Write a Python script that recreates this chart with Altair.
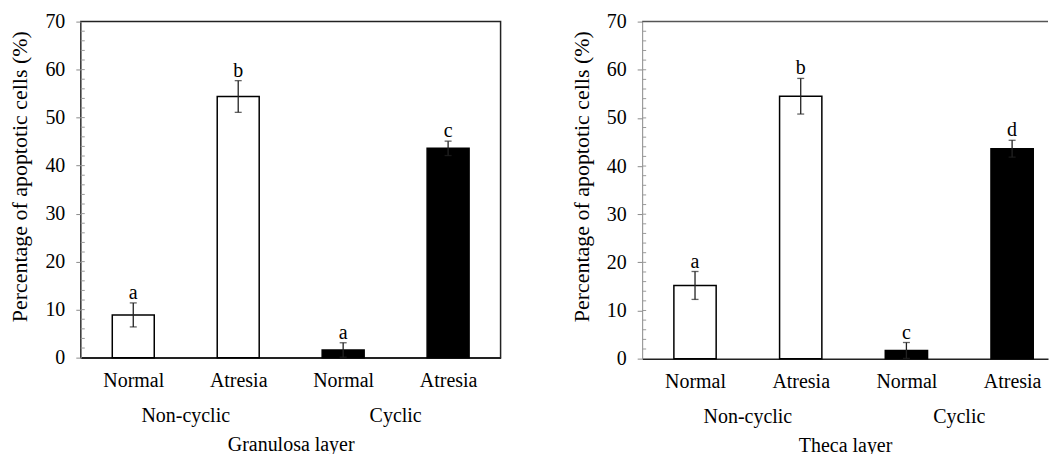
import altair as alt
import pandas as pd

categories = ["Normal", "Atresia", "Normal", "Atresia"]
groups = ["Non-cyclic", "Non-cyclic", "Cyclic", "Cyclic"]

gran_mean = [8.9, 54.4, 1.6, 43.6]
gran_err = [2.5, 3.3, 1.5, 1.5]
gran_letters = ["a", "b", "a", "c"]

theca_mean = [15.2, 54.5, 1.7, 43.6]
theca_err = [2.9, 3.7, 1.65, 1.75]
theca_letters = ["a", "b", "c", "d"]

y_ticks = [0, 10, 20, 30, 40, 50, 60, 70]
y_minor = list(range(2, 70, 2))

FONT = "Liberation Serif"
label_expr = "[" + ",".join(f"'{c}'" for c in categories) + "][floor(datum.value)]"


def panel(means, errs, letters, xtitle, W, H, xmax, full_box):
    df = pd.DataFrame({
        "idx": list(range(len(categories))),
        "cat": categories,
        "group": groups,
        "mean": means,
        "err": errs,
        "letter": letters,
    })
    base = alt.Chart(df).transform_calculate(
        pos="datum.idx + 0.5",
        lo="datum.idx + 0.3",
        hi="datum.idx + 0.7",
        upper="datum.mean + datum.err",
        lower="datum.mean - datum.err",
    )
    xscale = alt.Scale(domain=[0, xmax], nice=False, zero=False)
    yscale = alt.Scale(domain=[0, 70], nice=False)

    bars = base.mark_rect(stroke="black", strokeWidth=1.5).encode(
        x=alt.X("lo:Q", scale=xscale, axis=alt.Axis(
            values=[i + 0.5 for i in range(len(categories))],
            labelExpr=label_expr, ticks=False, grid=False,
            domainColor="#222", domainWidth=1.5,
            labelFont=FONT, labelFontSize=20, labelPadding=13, labelColor="black",
            title=xtitle, titleFont=FONT, titleFontSize=20, titlePadding=44,
            titleFontWeight="normal", titleColor="black")),
        x2="hi:Q",
        y=alt.Y("mean:Q", scale=yscale, axis=alt.Axis(
            values=y_ticks, grid=False, domainColor="#8a8a8a", tickColor="#8a8a8a",
            tickSize=5, labelFont=FONT, labelFontSize=20, labelPadding=11,
            labelColor="black",
            title="Percentage of apoptotic cells (%)",
            titleFont=FONT, titleFontSize=22, titlePadding=13,
            titleFontWeight="normal", titleColor="black", titleY=155)),
        y2=alt.datum(0),
        fill=alt.Fill("group:N", scale=alt.Scale(domain=["Non-cyclic", "Cyclic"],
                                                 range=["white", "black"]), legend=None),
    )
    minor = alt.Chart(pd.DataFrame({"v": y_minor})).mark_rule(
        color="#9a9a9a", strokeWidth=1).encode(
        y="v:Q",
        x=alt.value(0), x2=alt.value(4),
    )
    rules = base.mark_rule(color="#222", strokeWidth=1.3).encode(
        x="pos:Q", y="lower:Q", y2="upper:Q",
    )
    caps_hi = base.mark_tick(orient="horizontal", color="#222", thickness=1.3, size=7).encode(
        x="pos:Q", y="upper:Q",
    )
    caps_lo = base.mark_tick(orient="horizontal", color="#222", thickness=1.3, size=7).encode(
        x="pos:Q", y="lower:Q",
    )
    letters_t = base.mark_text(font=FONT, fontSize=20, baseline="alphabetic", dy=-4,
                               color="black").encode(
        x="pos:Q", y="upper:Q", text="letter:N",
    )
    group_t = base.transform_aggregate(mid="mean(pos)", groupby=["group"]).mark_text(
        font=FONT, fontSize=20, baseline="middle", color="black").encode(
        x="mid:Q",
        y=alt.value(H + 59),
        text="group:N",
    )
    layers = [bars, minor, rules, caps_hi, caps_lo, letters_t, group_t]
    if full_box:
        view = alt.ViewBackground(stroke="#222", strokeWidth=1.5)
    else:
        view = alt.ViewBackground(stroke=None)
        top = alt.Chart(pd.DataFrame({"t": [70], "a": [0], "b": [xmax]})).mark_rule(
            color="#555", strokeWidth=1.5).encode(
            y="t:Q", x="a:Q", x2="b:Q")
        layers.append(top)
    return alt.layer(*layers).properties(width=W, height=H, view=view)


left = panel(gran_mean, gran_err, gran_letters, "Granulosa layer", 421, 337, 4, True)
right = panel(theca_mean, theca_err, theca_letters, "Theca layer", 407, 338, 407 / 106, False)

chart = alt.hconcat(left, right, spacing=69).properties(
    padding={"left": 0, "top": 2, "right": 0, "bottom": 0}
).configure(background="white", font=FONT).configure_axis(
    labelFont=FONT, titleFont=FONT, labelColor="black", titleColor="black",
    titleFontWeight="normal"
)

chart.save("out.html", embed_options={"renderer": "svg", "actions": False})
